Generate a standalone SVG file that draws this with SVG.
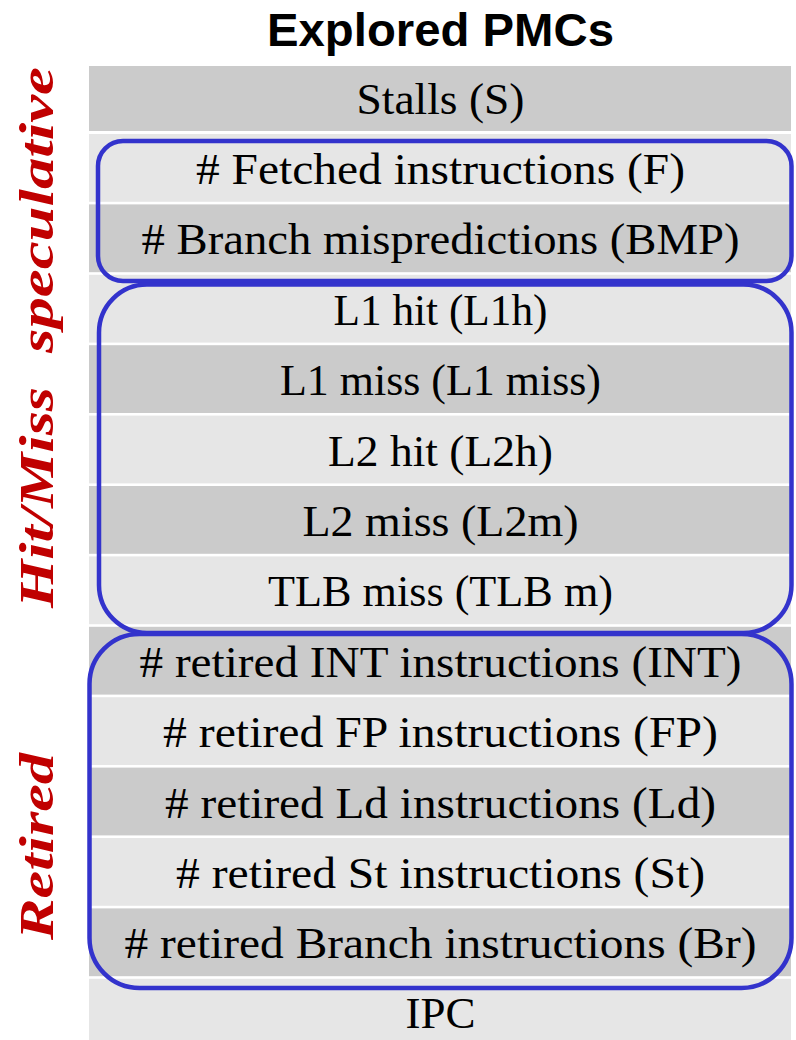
<svg xmlns="http://www.w3.org/2000/svg" width="796" height="1040" viewBox="0 0 796 1040">
<style>
.dark{fill:#cbcbcb}
.light{fill:#e6e6e6}
.lbl{font-family:"Liberation Serif","Times New Roman",serif;font-size:44px;fill:#000;text-anchor:middle}
.side{font-family:"Liberation Serif","Times New Roman",serif;font-size:48px;font-weight:bold;font-style:italic;fill:#c00000;text-anchor:middle}
.title{font-family:"Liberation Sans",Arial,sans-serif;font-size:46px;font-weight:bold;fill:#000;text-anchor:middle}
.grp{fill:none;stroke:#3333cc;stroke-width:4.5}
</style>
<rect width="796" height="1040" fill="#fff"/>
<text class="title" x="440.5" y="46" textLength="347" lengthAdjust="spacingAndGlyphs">Explored PMCs</text>
<g id="rows">
<g id="row-stalls"><rect class="dark" x="89" y="66" width="702" height="65"/><text class="lbl" x="440.5" y="114" textLength="168" lengthAdjust="spacingAndGlyphs">Stalls (S)</text></g>
<g id="row-fetched"><rect class="light" x="89" y="134" width="702" height="67.8"/><text class="lbl" x="440.5" y="184" textLength="489" lengthAdjust="spacingAndGlyphs"># Fetched instructions (F)</text></g>
<g id="row-bmp"><rect class="dark" x="89" y="204.4" width="702" height="67.8"/><text class="lbl" x="440.5" y="254.4" textLength="598" lengthAdjust="spacingAndGlyphs"># Branch mispredictions (BMP)</text></g>
<g id="row-l1h"><rect class="light" x="89" y="274.8" width="702" height="67.8"/><text class="lbl" x="440.5" y="324.8" textLength="214" lengthAdjust="spacingAndGlyphs">L1 hit (L1h)</text></g>
<g id="row-l1m"><rect class="dark" x="89" y="345.2" width="702" height="67.8"/><text class="lbl" x="440.5" y="395.2" textLength="321" lengthAdjust="spacingAndGlyphs">L1 miss (L1 miss)</text></g>
<g id="row-l2h"><rect class="light" x="89" y="415.6" width="702" height="67.8"/><text class="lbl" x="440.5" y="465.6" textLength="225" lengthAdjust="spacingAndGlyphs">L2 hit (L2h)</text></g>
<g id="row-l2m"><rect class="dark" x="89" y="486" width="702" height="67.8"/><text class="lbl" x="440.5" y="536" textLength="276" lengthAdjust="spacingAndGlyphs">L2 miss (L2m)</text></g>
<g id="row-tlb"><rect class="light" x="89" y="556.4" width="702" height="67.8"/><text class="lbl" x="440.5" y="606.4" textLength="345" lengthAdjust="spacingAndGlyphs">TLB miss (TLB m)</text></g>
<g id="row-int"><rect class="dark" x="89" y="626.8" width="702" height="67.8"/><text class="lbl" x="440.5" y="676.8" textLength="602" lengthAdjust="spacingAndGlyphs"># retired INT instructions (INT)</text></g>
<g id="row-fp"><rect class="light" x="89" y="697.2" width="702" height="67.8"/><text class="lbl" x="440.5" y="747.2" textLength="555" lengthAdjust="spacingAndGlyphs"># retired FP instructions (FP)</text></g>
<g id="row-ld"><rect class="dark" x="89" y="767.6" width="702" height="67.8"/><text class="lbl" x="440.5" y="817.6" textLength="551" lengthAdjust="spacingAndGlyphs"># retired Ld instructions (Ld)</text></g>
<g id="row-st"><rect class="light" x="89" y="838" width="702" height="67.8"/><text class="lbl" x="440.5" y="888" textLength="529" lengthAdjust="spacingAndGlyphs"># retired St instructions (St)</text></g>
<g id="row-br"><rect class="dark" x="89" y="908.4" width="702" height="67.8"/><text class="lbl" x="440.5" y="958.4" textLength="632" lengthAdjust="spacingAndGlyphs"># retired Branch instructions (Br)</text></g>
<g id="row-ipc"><rect class="light" x="89" y="978.8" width="702" height="62"/><text class="lbl" x="440.5" y="1028" textLength="70" lengthAdjust="spacingAndGlyphs">IPC</text></g>
</g>
<g id="groups">
<rect id="grp-speculative" class="grp" x="98" y="141" width="693.5" height="140" rx="25"/>
<rect id="grp-hitmiss" class="grp" x="99" y="284.5" width="692.5" height="348.5" rx="48"/>
<rect id="grp-retired" class="grp" x="89.5" y="634" width="702" height="354" rx="50"/>
</g>
<g id="side-labels">
<text class="side" transform="translate(53,210) rotate(-90)" textLength="286" lengthAdjust="spacingAndGlyphs">speculative</text>
<text class="side" transform="translate(53,497.5) rotate(-90)" textLength="221" lengthAdjust="spacingAndGlyphs">Hit/Miss</text>
<text class="side" transform="translate(53,846.5) rotate(-90)" textLength="187" lengthAdjust="spacingAndGlyphs">Retired</text>
</g>
</svg>
